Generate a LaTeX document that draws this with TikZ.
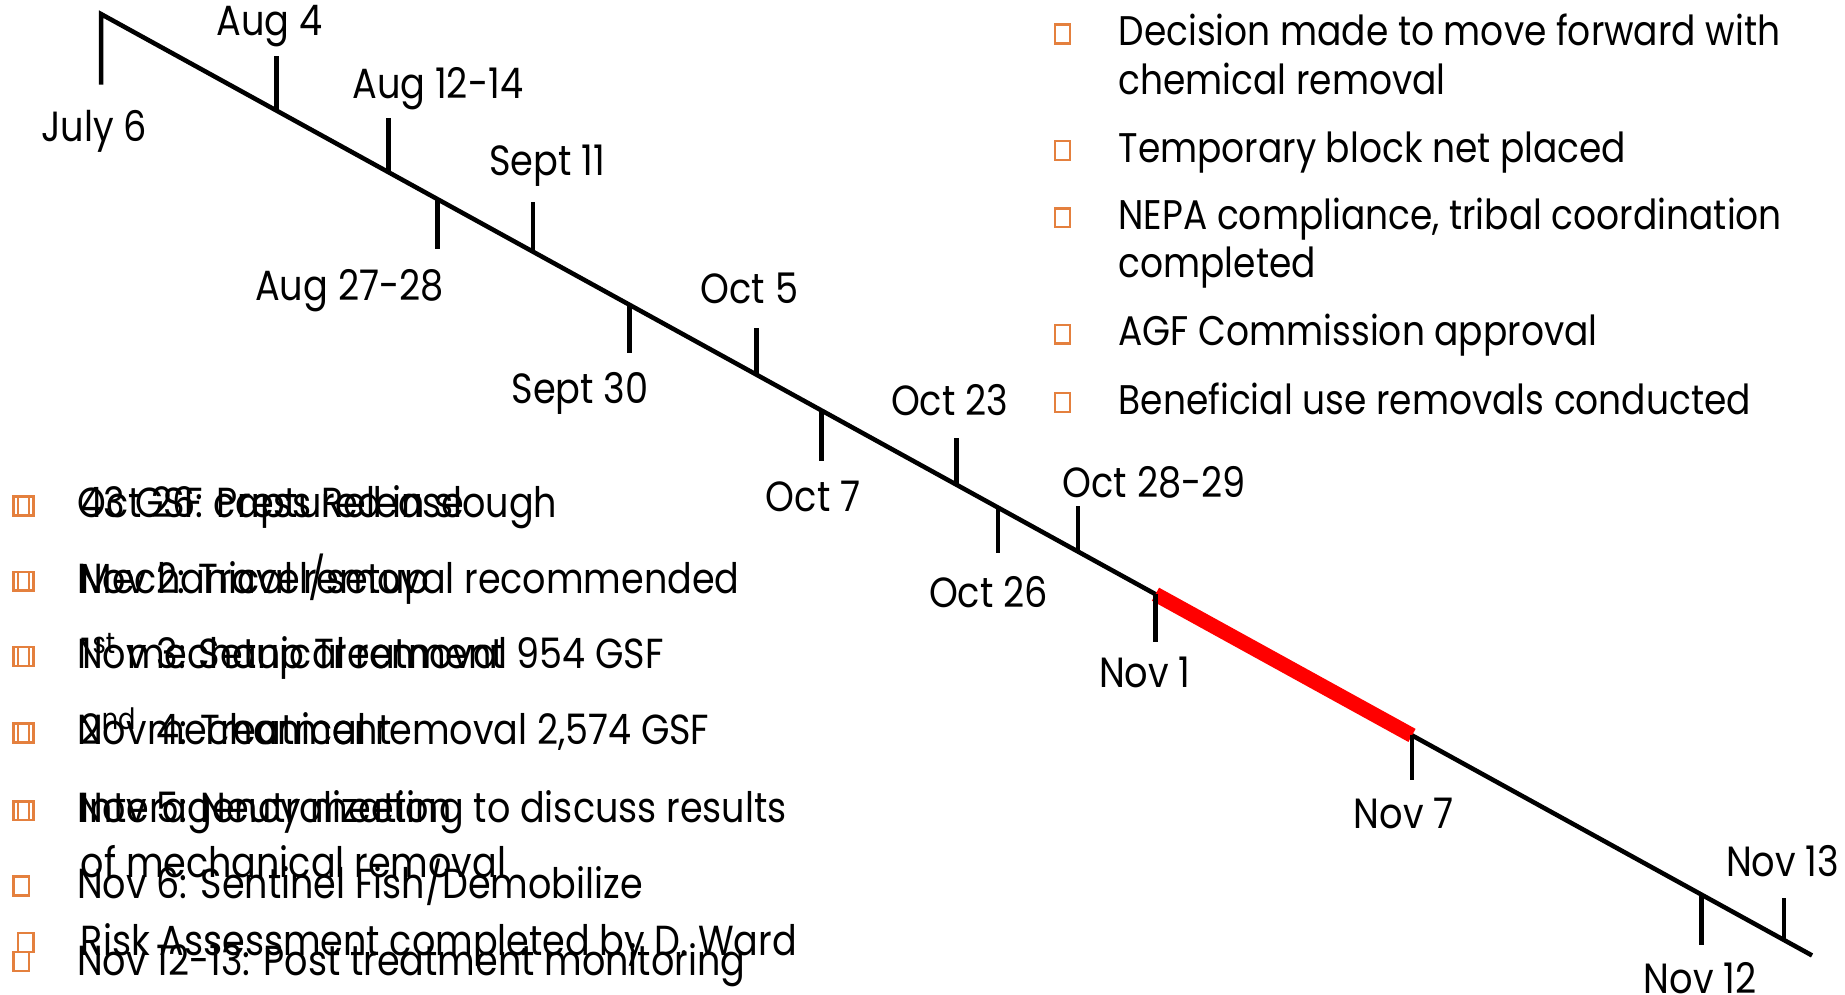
\documentclass[tikz,border=0pt]{standalone}
\usepackage{fontspec}
\setmainfont[FakeStretch=0.87]{Poppins}
\usetikzlibrary{positioning, calc}
\definecolor{bulletorange}{RGB}{228,128,62}
\definecolor{spanred}{RGB}{255,0,0}
\tikzset{
  datelbl/.style={font=\fontsize{10.2}{12}\selectfont, inner sep=0pt, anchor=base},
  item/.style={font=\fontsize{10}{12}\selectfont, inner sep=0pt, anchor=base west},
  leftitem/.style={item, font=\fontsize{10.15}{12}\selectfont},
  bulletbox/.style={draw=bulletorange, line width=0.6pt, minimum width=0.13cm, minimum height=0.16cm, inner sep=0pt},
  tlline/.style={line width=1.1pt, line join=miter},
  ticks/.style={line width=1.1pt},
  redspan/.style={spanred, line width=3.6pt},
}

\begin{document}
\begin{tikzpicture}[x=0.01cm, y=-0.01cm]
  \useasboundingbox (0,0) rectangle (1568,845);

  % points on the timeline
  \coordinate (july6) at (86,12);
  \coordinate (july6tick) at (86,72);
  \coordinate (aug4) at (235,94);
  \coordinate (aug12) at (330,146);
  \coordinate (aug27) at (372,169);
  \coordinate (sept11) at (453,214);
  \coordinate (sept30) at (535,259);
  \coordinate (oct5) at (643,318);
  \coordinate (oct7) at (698,349);
  \coordinate (oct23) at (813,412);
  \coordinate (oct26) at (848,431);
  \coordinate (oct28) at (916,469);
  \coordinate (nov1) at (982,505);
  \coordinate (nov7) at (1200,625);
  \coordinate (nov12) at (1446,760);
  \coordinate (nov13) at (1516,799);
  \coordinate (tlend) at (1540,812);

  \draw[tlline] (july6tick) -- (july6) -- (tlend);
  \draw[redspan] (nov1) -- (nov7);

  % ticks
  \draw[ticks] (aug4) -- ++(0,-46);
  \draw[ticks] (aug12) -- ++(0,-46);
  \draw[ticks] (aug27) -- ++(0,43);
  \draw[ticks] (sept11) -- ++(0,-42);
  \draw[ticks] (sept30) -- ++(0,41);
  \draw[ticks] (oct5) -- ++(0,-39);
  \draw[ticks] (oct7) -- ++(0,43);
  \draw[ticks] (oct23) -- ++(0,-40);
  \draw[ticks] (oct26) -- ++(0,39);
  \draw[ticks] (oct28) -- ++(0,-39);
  \draw[ticks] (nov1) -- ++(0,41);
  \draw[ticks] (nov7) -- ++(0,38);
  \draw[ticks] (nov12) -- ++(0,43);
  \draw[ticks] (nov13) -- ++(0,-36);

  % date labels
  \node[datelbl] (lbljuly6) at (80,120) {July 6};
  \node[datelbl] (lblaug4) at (229,30) {Aug 4};
  \node[datelbl] (lblaug12) at (372,84) {Aug 12-14};
  \node[datelbl] (lblaug27) at (297,255) {Aug 27-28};
  \node[datelbl] (lblsept11) at (465,149) {Sept 11};
  \node[datelbl] (lblsept30) at (493,343) {Sept 30};
  \node[datelbl] (lbloct5) at (637,258) {Oct 5};
  \node[datelbl] (lbloct7) at (691,435) {Oct 7};
  \node[datelbl] (lbloct23) at (807,353) {Oct 23};
  \node[datelbl] (lbloct26) at (840,516) {Oct 26};
  \node[datelbl] (lbloct28) at (981,423) {Oct 28-29};
  \node[datelbl] (lblnov1) at (973,584) {Nov 1};
  \node[datelbl] (lblnov7) at (1193,704) {Nov 7};
  \node[datelbl] (lblnov12) at (1445,844) {Nov 12};
  \node[datelbl] (lblnov13) at (1515,745) {Nov 13};

  % right-hand list
  \node[bulletbox] (rb1) at (903,29) {};
  \node[bulletbox] (rb2) at (903,128) {};
  \node[bulletbox] (rb3) at (903,185) {};
  \node[bulletbox] (rb4) at (903,284) {};
  \node[bulletbox] (rb5) at (903,342) {};
  \node[item] (r1) at (950,39) {Decision made to move forward with};
  \node[item] (r1b) at (950,80) {chemical removal};
  \node[item] (r2) at (950,138) {Temporary block net placed};
  \node[item] (r3) at (950,195) {NEPA compliance, tribal coordination};
  \node[item] (r3b) at (950,236) {completed};
  \node[item] (r4) at (950,294) {AGF Commission approval};
  \node[item] (r5) at (950,352) {Beneficial use removals conducted};

  % left list, first layer
  \node[bulletbox] (ab1) at (22,430) {};
  \node[bulletbox] (ab2) at (22,494) {};
  \node[bulletbox] (ab3) at (22,558) {};
  \node[bulletbox] (ab4) at (22,623) {};
  \node[bulletbox] (ab5) at (22,689) {};
  \node[bulletbox] (ab6) at (22,801) {};
  \node[leftitem] (a1) at (68,440) {43 GSF captured in slough};
  \node[leftitem] (a2) at (68,504) {Mechanical removal recommended};
  \node[leftitem] (a3) at (68,568) {1\textsuperscript{st} mechanical removal 954 GSF};
  \node[leftitem] (a4) at (68,633) {2\textsuperscript{nd} mechanical removal 2,574 GSF};
  \node[leftitem] (a5) at (68,699) {Interagency meeting to discuss results};
  \node[leftitem] (a5b) at (68,746) {of mechanical removal};
  \node[leftitem] (a6) at (68,812) {Risk Assessment completed by D. Ward};

  % left list, second layer
  \node[bulletbox] (bb1) at (18,430) {};
  \node[bulletbox] (bb2) at (18,494) {};
  \node[bulletbox] (bb3) at (18,558) {};
  \node[bulletbox] (bb4) at (18,623) {};
  \node[bulletbox] (bb5) at (18,689) {};
  \node[bulletbox] (bb6) at (18,753) {};
  \node[bulletbox] (bb7) at (18,817) {};
  \node[leftitem] (b1) at (65,440) {Oct 26: Press Release};
  \node[leftitem] (b2) at (65,504) {Nov 2: Travel/setup};
  \node[leftitem] (b3) at (65,568) {Nov 3: Setup Treatment};
  \node[leftitem] (b4) at (65,633) {Nov 4: Treatment};
  \node[leftitem] (b5) at (65,699) {Nov 5: Neutralization};
  \node[leftitem] (b6) at (65,764) {Nov 6: Sentinel Fish/Demobilize};
  \node[leftitem] (b7) at (65,829) {Nov 12-13: Post treatment monitoring};
\end{tikzpicture}
\end{document}
